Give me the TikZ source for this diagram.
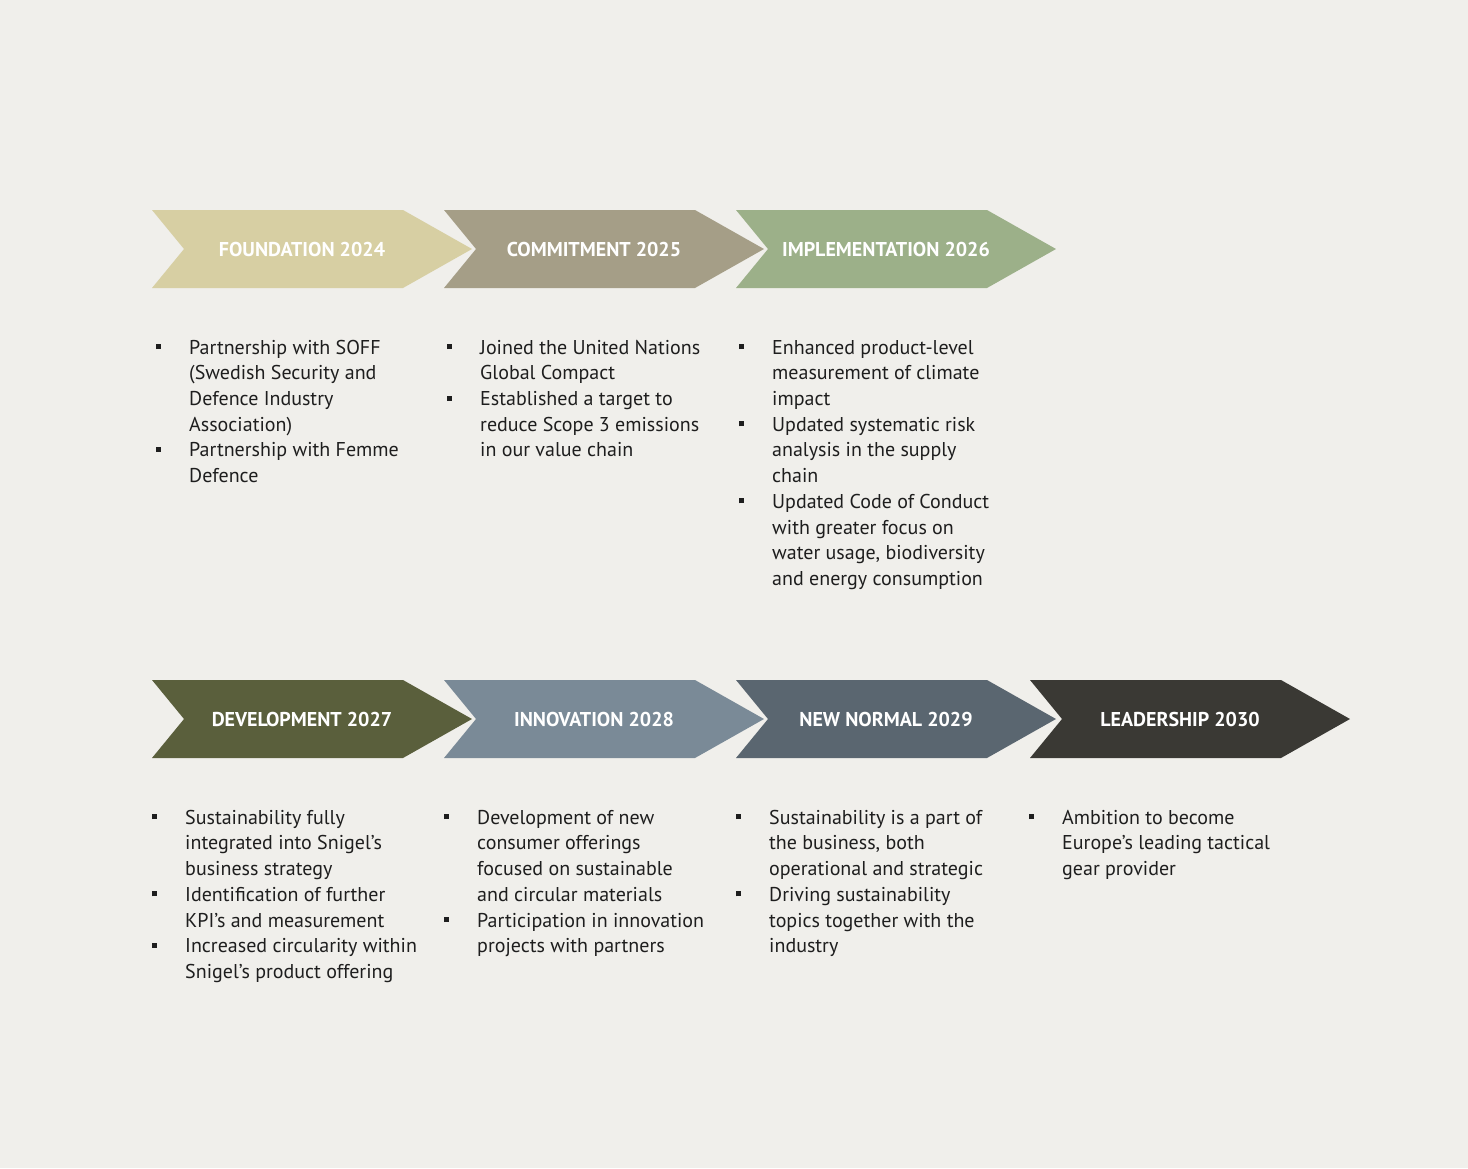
\documentclass[tikz,border=0pt]{standalone}
\usepackage{fontspec}
\setmainfont{PT Sans}
\definecolor{bg}{HTML}{F0EFEB}
\definecolor{cA}{HTML}{D7CFA3}
\definecolor{cB}{HTML}{A59E87}
\definecolor{cC}{HTML}{9CB089}
\definecolor{cD}{HTML}{5A5F3C}
\definecolor{cE}{HTML}{7A8A97}
\definecolor{cF}{HTML}{5A6670}
\definecolor{cG}{HTML}{3A3934}
\definecolor{txt}{HTML}{1E1E1E}
\newcommand{\bu}{\makebox[0pt][r]{\raisebox{5pt}{\rule{5pt}{5pt}}\hspace{28pt}}}
\newcommand{\chev}[4]{% x, ytop, color, text
  \fill[#3] (#1,#2) -- ++(251,0) -- ++(69,39) -- ++(-69,39) -- ++(-251,0) -- ++(32,-39) -- cycle;
  \node[title] at (#1+150,#2+39) {#4};}
\begin{document}
\begin{tikzpicture}[x=1pt,y=-1pt,
  title/.style={text=white,font=\fontsize{20}{24}\selectfont\bfseries,inner sep=0},
  body/.style={anchor=north west,align=left,inner sep=0,text=txt,font=\fontsize{20}{25.7}\selectfont}]
\fill[bg] (0,0) rectangle (1468,1168);
\useasboundingbox (0,0) rectangle (1468,1168);
\chev{152}{210}{cA}{FOUNDATION 2024}
\chev{444}{210}{cB}{COMMITMENT 2025}
\chev{736}{210}{cC}{IMPLEMENTATION 2026}
\chev{152}{680}{cD}{DEVELOPMENT 2027}
\chev{444}{680}{cE}{INNOVATION 2028}
\chev{736}{680}{cF}{NEW NORMAL 2029}
\chev{1030}{680}{cG}{LEADERSHIP 2030}
\node[body] (t1) at (189,336) {\strut\bu Partnership with SOFF\\(Swedish Security and\\Defence Industry\\Association)\\\bu Partnership with Femme\\Defence};
\node[body] (t2) at (480,336) {\strut\bu Joined the United Nations\\Global Compact\\\bu Established a target to\\reduce Scope 3 emissions\\in our value chain};
\node[body] (t3) at (772,336) {\strut\bu Enhanced product-level\\measurement of climate\\impact\\\bu Updated systematic risk\\analysis in the supply\\chain\\\bu Updated Code of Conduct\\with greater focus on\\water usage, biodiversity\\and energy consumption};
\node[body] (t4) at (185,806) {\strut\bu Sustainability fully\\integrated into Snigel’s\\business strategy\\\bu Identification of further\\KPI’s and measurement\\\bu Increased circularity within\\Snigel’s product offering};
\node[body] (t5) at (477,806) {\strut\bu Development of new\\consumer offerings\\focused on sustainable\\and circular materials\\\bu Participation in innovation\\projects with partners};
\node[body] (t6) at (769,806) {\strut\bu Sustainability is a part of\\the business, both\\operational and strategic\\\bu Driving sustainability\\topics together with the\\industry};
\node[body] (t7) at (1062,806) {\strut\bu Ambition to become\\Europe’s leading tactical\\gear provider};
\end{tikzpicture}
\end{document}
